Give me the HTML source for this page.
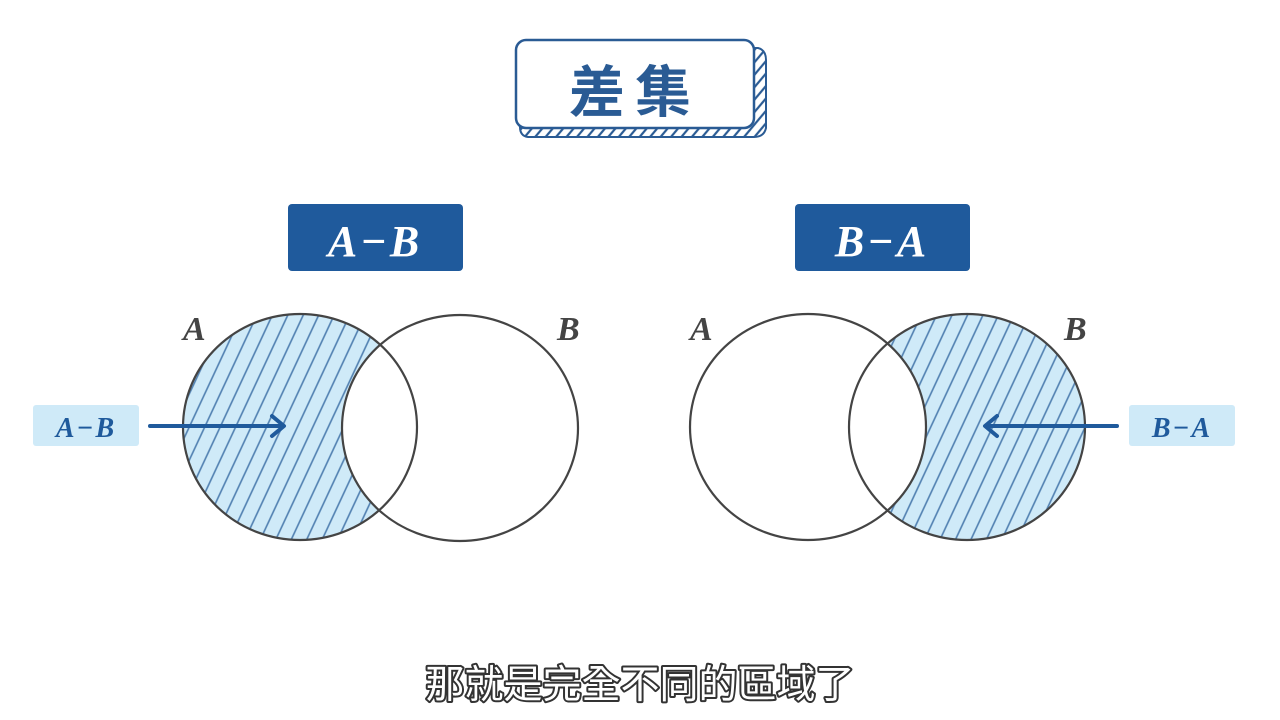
<!DOCTYPE html>
<html><head><meta charset="utf-8"><style>
body{margin:0;background:#fff;}
svg{display:block}
</style></head><body>
<svg width="1280" height="720" viewBox="0 0 1280 720" xmlns="http://www.w3.org/2000/svg">
<defs>
<pattern id="h" patternUnits="userSpaceOnUse" width="14" height="40" patternTransform="rotate(25)">
<rect width="14" height="40" fill="#cfeaf8"/>
<line x1="2" y1="0" x2="2" y2="40" stroke="#4f7fb0" stroke-width="1.6"/>
</pattern>
<pattern id="d" patternUnits="userSpaceOnUse" width="8" height="8" patternTransform="rotate(40)">
<line x1="2" y1="0" x2="2" y2="8" stroke="#2a5b94" stroke-width="2.2"/>
</pattern>
<mask id="mL"><rect width="1280" height="720" fill="#fff"/><ellipse cx="460" cy="428" rx="118" ry="113" fill="#000"/></mask>
<mask id="mR"><rect width="1280" height="720" fill="#fff"/><ellipse cx="808" cy="427" rx="118" ry="113" fill="#000"/></mask>
</defs>

<path d="M527 48 L758 48 Q766 50 766 60 L766 128 Q764 137 754 137 L528 137 Q520 136 520 127 L520 56 Q521 49 527 48Z" fill="url(#d)" stroke="#2a5b94" stroke-width="2"/>
<rect x="516" y="40" width="238" height="88" rx="10" fill="#fff" stroke="#2a5b94" stroke-width="2.5"/>
<text x="635" y="112" text-anchor="middle" font-family="Liberation Sans, Noto Sans CJK TC, sans-serif" font-size="56" font-weight="bold" fill="#2a5b94" letter-spacing="10">差集</text>

<rect x="288" y="204" width="175" height="67" rx="4" fill="#1f5a9c"/>
<text x="375" y="256" text-anchor="middle" font-family="Liberation Serif, serif" font-style="italic" font-weight="bold" font-size="44" fill="#fff" letter-spacing="3">A−B</text>
<rect x="795" y="204" width="175" height="67" rx="4" fill="#1f5a9c"/>
<text x="882" y="256" text-anchor="middle" font-family="Liberation Serif, serif" font-style="italic" font-weight="bold" font-size="44" fill="#fff" letter-spacing="3">B−A</text>

<ellipse cx="300" cy="427" rx="117" ry="113" fill="url(#h)" mask="url(#mL)"/>
<ellipse cx="300" cy="427" rx="117" ry="113" fill="none" stroke="#444" stroke-width="2.2"/>
<ellipse cx="460" cy="428" rx="118" ry="113" fill="none" stroke="#444" stroke-width="2.2"/>
<text x="183" y="340" font-family="Liberation Serif, serif" font-style="italic" font-weight="bold" font-size="34" fill="#444">A</text>
<text x="557" y="340" font-family="Liberation Serif, serif" font-style="italic" font-weight="bold" font-size="34" fill="#444">B</text>
<rect x="33" y="405" width="106" height="41" rx="3" fill="#cfeaf8"/>
<text x="86" y="437" text-anchor="middle" font-family="Liberation Serif, serif" font-style="italic" font-weight="bold" font-size="28" fill="#1f5a9c" letter-spacing="2">A−B</text>
<line x1="150" y1="426" x2="282" y2="426" stroke="#1f5a9c" stroke-width="4" stroke-linecap="round"/>
<path d="M272 416 L284 426 L272 436" fill="none" stroke="#1f5a9c" stroke-width="4" stroke-linecap="round" stroke-linejoin="round"/>

<ellipse cx="967" cy="427" rx="118" ry="113" fill="url(#h)" mask="url(#mR)"/>
<ellipse cx="808" cy="427" rx="118" ry="113" fill="none" stroke="#444" stroke-width="2.2"/>
<ellipse cx="967" cy="427" rx="118" ry="113" fill="none" stroke="#444" stroke-width="2.2"/>
<text x="690" y="340" font-family="Liberation Serif, serif" font-style="italic" font-weight="bold" font-size="34" fill="#444">A</text>
<text x="1064" y="340" font-family="Liberation Serif, serif" font-style="italic" font-weight="bold" font-size="34" fill="#444">B</text>
<rect x="1129" y="405" width="106" height="41" rx="3" fill="#cfeaf8"/>
<text x="1182" y="437" text-anchor="middle" font-family="Liberation Serif, serif" font-style="italic" font-weight="bold" font-size="28" fill="#1f5a9c" letter-spacing="2">B−A</text>
<line x1="1117" y1="426" x2="987" y2="426" stroke="#1f5a9c" stroke-width="4" stroke-linecap="round"/>
<path d="M997 416 L985 426 L997 436" fill="none" stroke="#1f5a9c" stroke-width="4" stroke-linecap="round" stroke-linejoin="round"/>

<text x="640" y="698" text-anchor="middle" font-family="Liberation Sans, Noto Sans CJK TC, sans-serif" font-size="39" fill="#fff" stroke="#333" stroke-width="4" paint-order="stroke" stroke-linejoin="round">那就是完全不同的區域了</text>
</svg>
</body></html>
